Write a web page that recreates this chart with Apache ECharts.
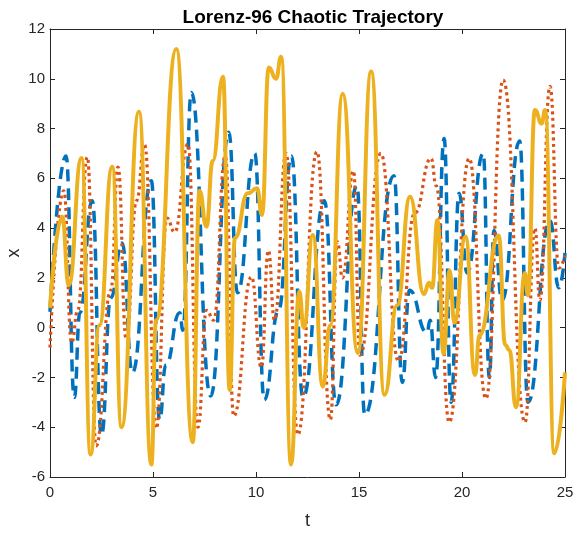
<!DOCTYPE html>
<html>
<head>
<meta charset="utf-8">
<script src="https://cdn.jsdelivr.net/npm/echarts@6/dist/echarts.min.js"></script>
<style>
html,body{margin:0;padding:0;background:#fff;}
#chart{width:578px;height:533px;}
</style>
</head>
<body>
<div id="chart"></div>
<script>
// Blue dashed series (local extrema / shoulders)
const blueT = [0,0.78,1.18,1.45,2.05,2.5,2.95,3.5,4.0,4.92,5.32,5.62,6.3,6.45,6.86,7.8,8.68,9.1,9.94,10.4,11.1,11.72,12.28,13.32,13.89,14.9,15.28,16.7,17.1,17.45,18.3,18.45,18.72,19.13,19.47,19.86,20.25,21.03,21.33,21.55,21.95,22.8,23.2,24.27,24.7,25];
const blueX = [0.64,6.9,-2.8,0.6,5.1,-4.3,1.2,3.4,-1.8,5.9,-3.7,-1.5,0.6,-0.1,9.45,-2.75,7.85,1.4,7.0,-2.9,0.7,6.9,-2.8,5.1,-3.1,5.7,-3.5,6.1,-2.2,1.5,-0.2,0.3,-2.0,7.6,-3.0,5.4,2.2,7.0,-2.0,3.9,1.1,7.5,-3.0,4.3,1.6,3.0];
// Orange dotted series
const orangeT = [0,0.67,1.05,1.35,1.81,2.24,2.95,3.3,3.7,4.2,4.59,5.16,5.68,6.05,6.7,7.18,7.6,7.95,8.51,8.92,9.78,10.26,10.6,10.9,11.46,12.03,12.96,13.61,13.95,14.2,14.73,15.05,16.06,16.92,17.7,18.5,18.75,19.38,20.35,21.16,22.0,23.06,23.54,23.78,24.27,24.7,25];
const orangeX = [-0.8,5.5,-0.6,0.7,6.85,-4.75,1.5,6.45,-0.45,5.1,7.35,-4.05,4.4,3.84,7.38,-4.0,0.7,0.3,6.9,-3.55,2.04,-1.6,3.1,0.3,7.0,-4.3,7.07,-3.7,3.45,2.0,6.3,-1.1,7.0,-1.35,4.6,6.8,5.7,-3.8,6.8,-2.85,9.95,-3.8,4.0,1.1,9.7,2.4,2.9];
// Yellow solid series
const yellowT = [0,0.59,0.91,1.53,1.97,2.4,3.02,3.47,4.32,4.92,5.15,6.13,6.93,7.26,7.59,7.9,8.40,8.72,8.98,9.6,10.05,10.29,10.62,10.97,11.22,11.70,12.1,12.32,12.76,13.24,13.6,14.21,14.94,15.59,16.24,16.85,17.48,18.15,18.4,18.55,18.81,19.1,19.4,19.63,20.17,20.63,20.85,21.78,22.1,22.3,22.62,23.05,23.2,23.54,23.87,24.03,24.48,25];
const yellowX = [0.8,4.46,1.71,6.82,-5.1,0.1,6.47,-4.0,8.68,-5.5,0.3,11.2,-4.6,5.5,4.06,6.7,10.08,-2.5,3.6,5.4,5.6,4.53,10.45,10.0,10.89,-5.5,1.45,0.0,3.72,-2.37,0.1,9.4,-1.02,10.29,-2.7,0.9,5.26,1.35,1.8,1.6,4.33,-1.05,2.3,0.2,3.66,-1.9,-0.3,3.7,-0.7,-0.9,-3.2,2.2,1.3,8.75,8.2,8.75,-5.05,-1.8];

const titleText = 'Lorenz-96 Chaotic Trajectory';
const xName = 't';
const yName = 'x';

function pairs(t, v){ return t.map((ti,i)=>[ti, v[i]]); }

const axisColor = '#262626';
const font = 'Liberation Sans, Arial, Helvetica, sans-serif';

const chart = echarts.init(document.getElementById('chart'), null, {renderer:'canvas'});
const baseX = {type:'value', min:0, max:25, interval:5, gridIndex:0,
  axisLine:{show:true, onZero:false, lineStyle:{color:axisColor, width:1}},
  axisTick:{show:true, inside:true, length:5, lineStyle:{color:axisColor}},
  splitLine:{show:false}};
const baseY = {type:'value', min:-6, max:12, interval:2, gridIndex:0,
  axisLine:{show:true, onZero:false, lineStyle:{color:axisColor, width:1}},
  axisTick:{show:true, inside:true, length:5, lineStyle:{color:axisColor}},
  splitLine:{show:false}};

const lineCommon = {type:'line', showSymbol:false, symbol:'none', smooth:0.5, smoothMonotone:'x', clip:true, z:2};

chart.setOption({
  animation:false,
  backgroundColor:'#fff',
  title:{text:titleText, left:308, top:3, textAlign:'center',
    textStyle:{fontFamily:font, fontSize:19, fontWeight:'bold', color:'#000'}},
  grid:{left:50, right:13, top:29, bottom:56, show:false, containLabel:false, outerBoundsMode:'none'},
  xAxis:[
    Object.assign({}, baseX, {position:'bottom', name:xName, nameLocation:'middle', nameGap:35,
      nameTextStyle:{fontFamily:font, fontSize:18, color:axisColor},
      axisLabel:{show:true, margin:8, fontFamily:font, fontSize:15, color:axisColor}}),
    Object.assign({}, baseX, {position:'top', axisLabel:{show:false}})
  ],
  yAxis:[
    Object.assign({}, baseY, {position:'left', name:yName, nameLocation:'middle', nameGap:27, nameMoveOverlap:false,
      nameTextStyle:{fontFamily:font, fontSize:18, color:axisColor},
      axisLabel:{show:true, margin:5, fontFamily:font, fontSize:15, color:axisColor}}),
    Object.assign({}, baseY, {position:'right', axisLabel:{show:false}})
  ],
  series:[
    Object.assign({}, lineCommon, {name:'x1', data:pairs(blueT, blueX),
      lineStyle:{color:'#0072BD', width:3.5, type:[12,7], cap:'butt'}}),
    Object.assign({}, lineCommon, {name:'x2', data:pairs(orangeT, orangeX),
      lineStyle:{color:'#D95319', width:3.2, type:[3,3.5], cap:'butt'}}),
    Object.assign({}, lineCommon, {name:'x3', data:pairs(yellowT, yellowX),
      lineStyle:{color:'#EDB120', width:4, type:'solid'}})
  ]
});
</script>
</body>
</html>
